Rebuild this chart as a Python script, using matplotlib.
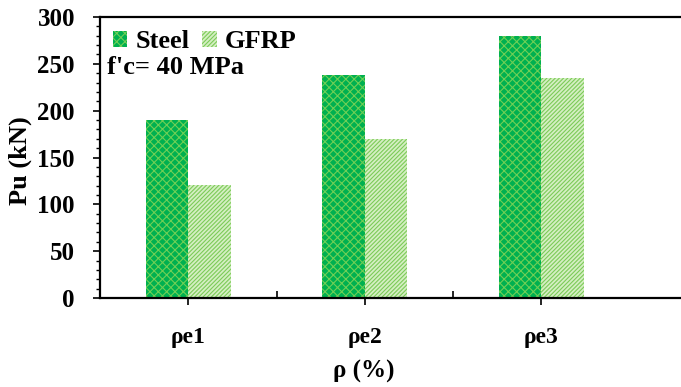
import numpy as np
import matplotlib
matplotlib.use("Agg")
import matplotlib.pyplot as plt
from matplotlib.ticker import MultipleLocator

plt.rcParams['font.family'] = ['Liberation Serif', 'DejaVu Serif']
plt.rcParams['font.weight'] = 'bold'
plt.rcParams['hatch.linewidth'] = 0.8

categories = ['ρe1', 'ρe2', 'ρe3']
steel = [190, 238, 280]
gfrp = [121, 170, 235]

fig = plt.figure(figsize=(6.81, 3.87), dpi=100)
ax = fig.add_axes([0.1468, 0.23, 0.8532, 0.726])

x = np.arange(len(categories)) + 0.5
w = 0.24
ax.bar(x - w / 2, steel, w, color='#00B050', edgecolor='#6FCF55', linewidth=0,
       hatch='xxxx', label='Steel')
ax.bar(x + w / 2, gfrp, w, color='#D4EFC2', edgecolor='#7CCB58', linewidth=0,
       hatch='////////', label='GFRP')

ax.set_xlim(0, 3.29)
ax.set_ylim(0, 300)
ax.set_xticks(x)
ax.set_xticks([1, 2], minor=True)
ax.set_xticklabels(categories)
ax.tick_params(axis='x', which='major', direction='out', length=5, width=1.2,
               pad=16, labelsize=17)
ax.tick_params(axis='x', which='minor', direction='in', length=5, width=1.2)
ax.yaxis.set_major_locator(MultipleLocator(50))
ax.yaxis.set_minor_locator(MultipleLocator(10))
ax.tick_params(axis='y', which='major', direction='out', length=5, width=1.2,
               labelsize=18, pad=13)
ax.tick_params(axis='y', which='minor', direction='out', length=3, width=1.0)
for lab in ax.get_yticklabels() + ax.get_xticklabels():
    lab.set_fontweight('bold')

ax.spines['right'].set_visible(False)
for s in ['left', 'bottom', 'top']:
    ax.spines[s].set_linewidth(1.6)

ax.set_ylabel('Pu (kN)', fontsize=19, fontweight='bold')
ax.yaxis.set_label_coords(-0.117, 0.49)
ax.set_xlabel('ρ (%)', fontsize=18, fontweight='bold')
ax.xaxis.set_label_coords(0.454, -0.22)

ax.legend(loc='upper left', bbox_to_anchor=(0.022, 0.954), ncol=2, frameon=False,
          handlelength=0.55, handleheight=0.55, handletextpad=0.3,
          columnspacing=0.5, borderpad=0, borderaxespad=0,
          prop={'weight': 'bold', 'size': 19})
ax.text(0.012, 0.822, "f'c= 40 MPa", transform=ax.transAxes, fontsize=19,
        fontweight='bold', va='center', ha='left')

fig.savefig('out.png', dpi=100, facecolor='white')
